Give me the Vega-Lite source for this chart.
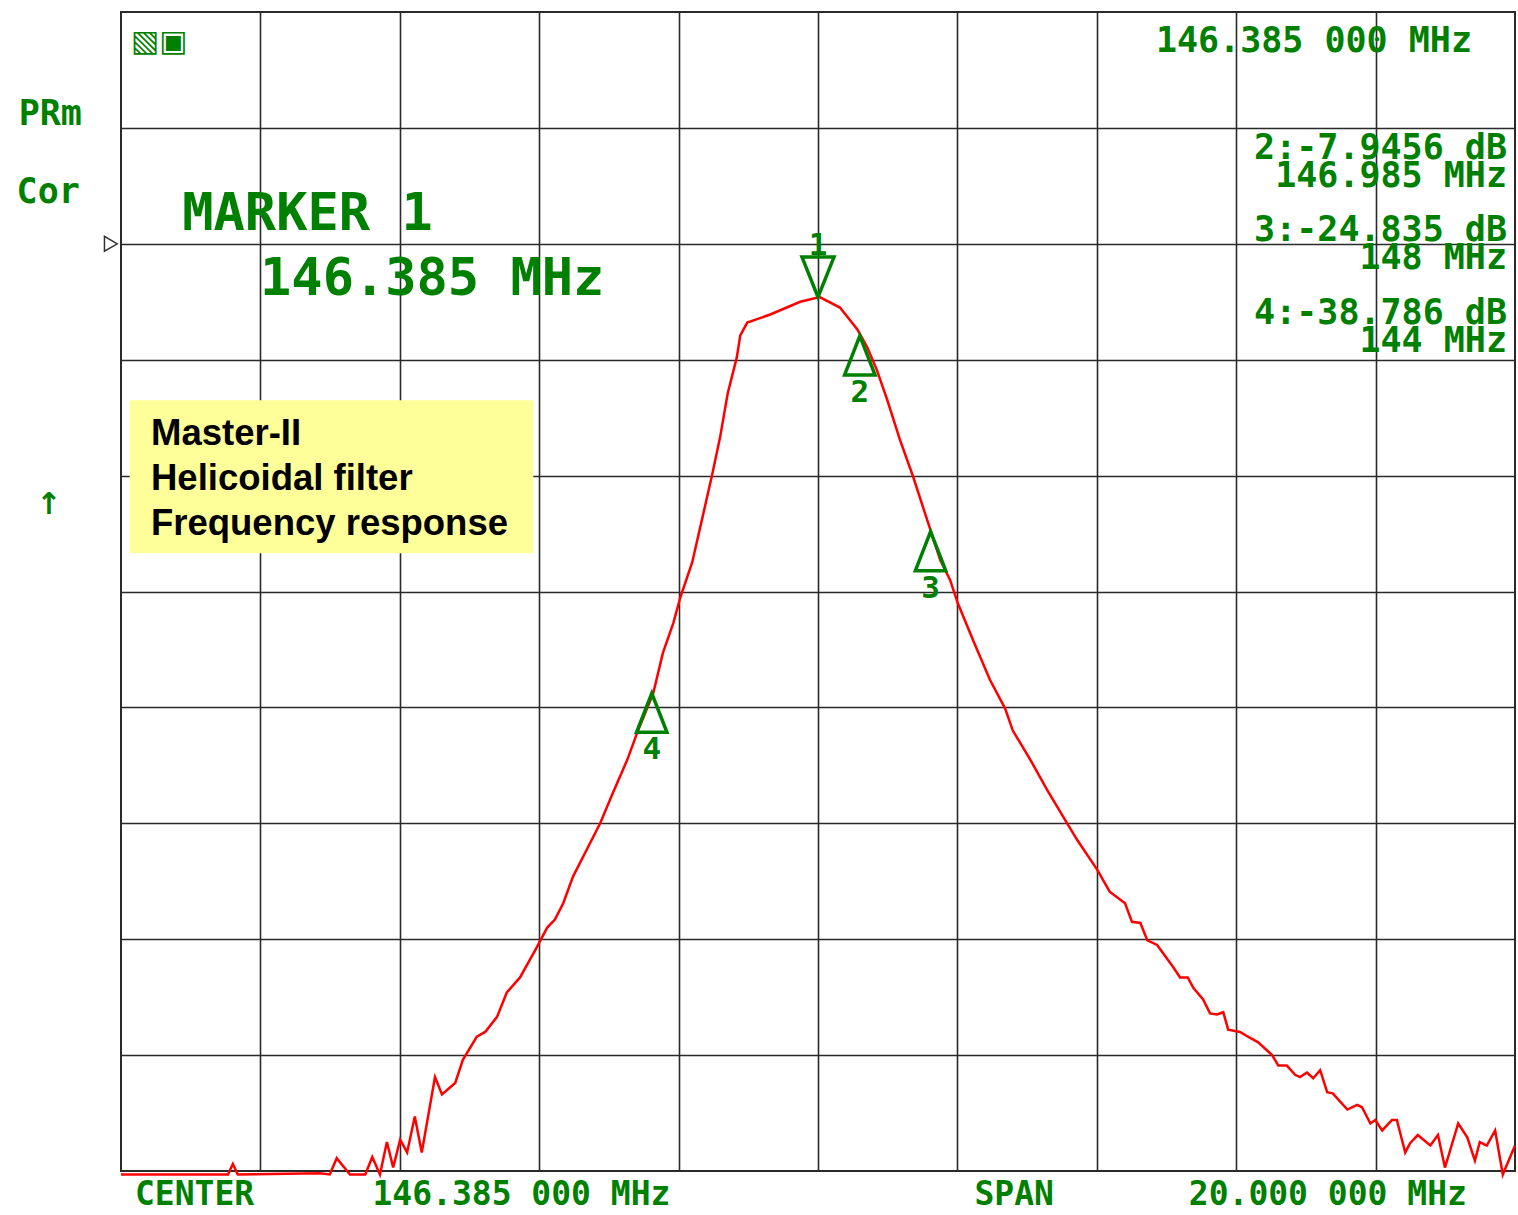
{
  "$schema": "https://vega.github.io/schema/vega-lite/v6.json",
  "width": 1394,
  "height": 1159,
  "autosize": {"type": "none"},
  "padding": {"left": 121, "top": 12, "right": 3, "bottom": 44},
  "background": "white",
  "config": {
    "view": {"stroke": "#2a2a2a", "strokeWidth": 2},
    "axis": {"gridColor": "#2a2a2a", "gridWidth": 1.6, "gridOpacity": 1}
  },
  "datasets": {
    "trace": [
      {"freq": 136.385, "level": -80.3}, {"freq": 137.92, "level": -80.3}, {"freq": 137.99, "level": -79.4},
      {"freq": 138.06, "level": -80.3}, {"freq": 139.24, "level": -80.2}, {"freq": 139.38, "level": -80.3},
      {"freq": 139.48, "level": -78.9}, {"freq": 139.67, "level": -80.3}, {"freq": 139.89, "level": -80.3},
      {"freq": 139.99, "level": -78.8}, {"freq": 140.10, "level": -80.3}, {"freq": 140.20, "level": -77.5},
      {"freq": 140.29, "level": -79.7}, {"freq": 140.39, "level": -77.3}, {"freq": 140.49, "level": -78.4},
      {"freq": 140.60, "level": -75.3}, {"freq": 140.70, "level": -78.4}, {"freq": 140.89, "level": -71.9},
      {"freq": 140.99, "level": -73.4}, {"freq": 141.18, "level": -72.4}, {"freq": 141.29, "level": -70.4},
      {"freq": 141.49, "level": -68.4}, {"freq": 141.61, "level": -68.0}, {"freq": 141.78, "level": -66.7},
      {"freq": 141.92, "level": -64.6}, {"freq": 142.11, "level": -63.3}, {"freq": 142.35, "level": -60.7},
      {"freq": 142.50, "level": -59.0}, {"freq": 142.61, "level": -58.3}, {"freq": 142.73, "level": -56.9},
      {"freq": 142.87, "level": -54.6}, {"freq": 143.09, "level": -52.0}, {"freq": 143.26, "level": -50.0},
      {"freq": 143.44, "level": -47.4}, {"freq": 143.65, "level": -44.5}, {"freq": 143.79, "level": -42.2},
      {"freq": 144.02, "level": -38.8}, {"freq": 144.16, "level": -35.3}, {"freq": 144.31, "level": -32.7},
      {"freq": 144.41, "level": -30.5}, {"freq": 144.58, "level": -27.5}, {"freq": 144.72, "level": -23.8},
      {"freq": 144.86, "level": -20.1}, {"freq": 144.98, "level": -16.7}, {"freq": 145.09, "level": -12.9},
      {"freq": 145.22, "level": -9.8}, {"freq": 145.27, "level": -7.9}, {"freq": 145.37, "level": -6.8},
      {"freq": 145.70, "level": -6.1}, {"freq": 146.13, "level": -5.0}, {"freq": 146.41, "level": -4.6},
      {"freq": 146.70, "level": -5.5}, {"freq": 146.95, "level": -7.4}, {"freq": 147.09, "level": -8.9},
      {"freq": 147.23, "level": -10.9}, {"freq": 147.38, "level": -13.5}, {"freq": 147.56, "level": -16.9},
      {"freq": 147.75, "level": -20.1}, {"freq": 147.95, "level": -23.8}, {"freq": 148.14, "level": -27.3},
      {"freq": 148.28, "level": -29.0}, {"freq": 148.39, "level": -31.0}, {"freq": 148.61, "level": -34.2},
      {"freq": 148.85, "level": -37.6}, {"freq": 149.07, "level": -40.1}, {"freq": 149.18, "level": -42.0},
      {"freq": 149.43, "level": -44.5}, {"freq": 149.67, "level": -47.1}, {"freq": 149.96, "level": -50.0},
      {"freq": 150.10, "level": -51.4}, {"freq": 150.39, "level": -54.0}, {"freq": 150.57, "level": -55.9},
      {"freq": 150.79, "level": -56.9}, {"freq": 150.89, "level": -58.5}, {"freq": 151.01, "level": -58.6},
      {"freq": 151.11, "level": -60.1}, {"freq": 151.25, "level": -60.5}, {"freq": 151.48, "level": -62.4},
      {"freq": 151.58, "level": -63.3}, {"freq": 151.69, "level": -63.3}, {"freq": 151.77, "level": -64.2},
      {"freq": 151.91, "level": -65.2}, {"freq": 152.01, "level": -66.4}, {"freq": 152.11, "level": -66.5},
      {"freq": 152.20, "level": -66.3}, {"freq": 152.27, "level": -67.8}, {"freq": 152.44, "level": -68.0},
      {"freq": 152.58, "level": -68.5}, {"freq": 152.70, "level": -68.9}, {"freq": 152.90, "level": -70.0},
      {"freq": 152.99, "level": -70.9}, {"freq": 153.11, "level": -70.9}, {"freq": 153.23, "level": -71.7},
      {"freq": 153.30, "level": -71.9}, {"freq": 153.40, "level": -71.5}, {"freq": 153.49, "level": -72.0},
      {"freq": 153.59, "level": -71.3}, {"freq": 153.69, "level": -73.2}, {"freq": 153.77, "level": -73.3},
      {"freq": 153.98, "level": -74.7}, {"freq": 154.12, "level": -74.3}, {"freq": 154.19, "level": -74.5},
      {"freq": 154.31, "level": -75.9}, {"freq": 154.38, "level": -75.6}, {"freq": 154.48, "level": -76.5},
      {"freq": 154.62, "level": -75.6}, {"freq": 154.69, "level": -75.6}, {"freq": 154.81, "level": -78.4},
      {"freq": 154.88, "level": -77.6}, {"freq": 154.99, "level": -76.9}, {"freq": 155.17, "level": -77.8},
      {"freq": 155.28, "level": -76.9}, {"freq": 155.38, "level": -79.7}, {"freq": 155.57, "level": -75.9},
      {"freq": 155.70, "level": -77.1}, {"freq": 155.81, "level": -79.1}, {"freq": 155.88, "level": -77.5},
      {"freq": 155.98, "level": -77.8}, {"freq": 156.10, "level": -76.5}, {"freq": 156.21, "level": -80.3},
      {"freq": 156.385, "level": -77.8}
    ],
    "markers": [
      {"marker": "1", "freq": 146.385, "level": -4.6, "dir": "down"},
      {"marker": "2", "freq": 146.985, "level": -7.9456, "dir": "up"},
      {"marker": "3", "freq": 148.0, "level": -24.835, "dir": "up"},
      {"marker": "4", "freq": 144.0, "level": -38.786, "dir": "up"}
    ],
    "note": [
      {"text": "Master-II\nHelicoidal filter\nFrequency response", "freq": 136.51, "freq2": 142.30, "level": -13.5, "level2": -26.7, "textFreq": 136.815, "textLevel": -17.36}
    ],
    "texts": [
      {"kind": "readout", "text": "146.385 000 MHz", "freq": 153.50, "level": 17.5},
      {"kind": "pair", "text": "2:-7.9456 dB\n146.985 MHz", "freq": 156.27, "level": 8.27},
      {"kind": "pair", "text": "3:-24.835 dB\n148 MHz", "freq": 156.27, "level": 1.19},
      {"kind": "pair", "text": "4:-38.786 dB\n144 MHz", "freq": 156.27, "level": -5.97},
      {"kind": "readout", "text": "PRm", "freq": 135.37, "level": 11.2},
      {"kind": "readout", "text": "Cor", "freq": 135.34, "level": 4.5},
      {"kind": "footer", "text": "CENTER", "freq": 137.44, "level": -82.1},
      {"kind": "footer", "text": "146.385 000 MHz", "freq": 142.13, "level": -82.1},
      {"kind": "footer", "text": "SPAN", "freq": 149.20, "level": -82.1},
      {"kind": "footer", "text": "20.000 000 MHz", "freq": 153.70, "level": -82.1},
      {"kind": "big", "text": "MARKER 1", "freq": 139.06, "level": 2.6},
      {"kind": "big", "text": "146.385 MHz", "freq": 140.85, "level": -3.0},
      {"kind": "symbol", "text": "↑", "freq": 135.35, "level": -22.5},
      {"kind": "symbol", "text": "▧▣", "freq": 136.93, "level": 17.4}
    ],
    "ref": [
      {"freq": 136.24, "level": 0}
    ]
  },
  "encoding": {
    "x": {
      "field": "freq", "type": "quantitative",
      "scale": {"domain": [136.385, 156.385], "nice": false, "zero": false},
      "axis": {"values": [138.385, 140.385, 142.385, 144.385, 146.385, 148.385, 150.385, 152.385, 154.385], "grid": true, "labels": false, "ticks": false, "domain": false, "title": null}
    },
    "y": {
      "field": "level", "type": "quantitative",
      "scale": {"domain": [-80, 20], "nice": false, "zero": false},
      "axis": {"values": [-70, -60, -50, -40, -30, -20, -10, 0, 10], "grid": true, "labels": false, "ticks": false, "domain": false, "title": null}
    }
  },
  "layer": [
    {
      "data": {"name": "note"},
      "mark": {"type": "rect", "fill": "#ffff99", "stroke": null},
      "encoding": {"x2": {"field": "freq2"}, "y2": {"field": "level2"}}
    },
    {
      "data": {"name": "note"},
      "mark": {"type": "text", "align": "left", "baseline": "alphabetic", "lineBreak": "\n", "lineHeight": 45, "font": "Liberation Sans", "fontWeight": "bold", "fontSize": 36.5, "color": "#000000"},
      "encoding": {
        "x": {"field": "textFreq", "type": "quantitative"},
        "y": {"field": "textLevel", "type": "quantitative"},
        "text": {"field": "text"}
      }
    },
    {
      "data": {"name": "trace"},
      "mark": {"type": "line", "color": "#ff0000", "strokeWidth": 2.5, "interpolate": "linear"}
    },
    {
      "data": {"name": "markers"},
      "transform": [{"filter": "datum.dir === 'up'"}],
      "mark": {"type": "point", "shape": "M0,0L-0.39,1L0.39,1Z", "size": 6084, "filled": false, "stroke": "#008000", "color": "#008000", "strokeWidth": 3.5, "opacity": 1}
    },
    {
      "data": {"name": "markers"},
      "transform": [{"filter": "datum.dir === 'down'"}],
      "mark": {"type": "point", "shape": "M0,0L-0.4,-1L0.4,-1Z", "size": 6400, "filled": false, "stroke": "#008000", "color": "#008000", "strokeWidth": 3.5, "opacity": 1}
    },
    {
      "data": {"name": "markers"},
      "transform": [{"filter": "datum.dir === 'up'"}],
      "mark": {"type": "text", "dy": 57, "align": "center", "baseline": "middle", "font": "DejaVu Sans Mono", "fontWeight": "bold", "fontSize": 31, "color": "#008000"},
      "encoding": {"text": {"field": "marker"}}
    },
    {
      "data": {"name": "markers"},
      "transform": [{"filter": "datum.dir === 'down'"}],
      "mark": {"type": "text", "dy": -51, "align": "center", "baseline": "middle", "font": "DejaVu Sans Mono", "fontWeight": "bold", "fontSize": 31, "color": "#008000"},
      "encoding": {"text": {"field": "marker"}}
    },
    {
      "data": {"name": "texts"},
      "transform": [{"filter": "datum.kind === 'readout'"}],
      "mark": {"type": "text", "align": "center", "baseline": "middle", "font": "DejaVu Sans Mono", "fontWeight": "bold", "fontSize": 35, "color": "#008000"},
      "encoding": {"text": {"field": "text"}}
    },
    {
      "data": {"name": "texts"},
      "transform": [{"filter": "datum.kind === 'pair'"}],
      "mark": {"type": "text", "align": "right", "baseline": "middle", "lineBreak": "\n", "lineHeight": 28, "font": "DejaVu Sans Mono", "fontWeight": "bold", "fontSize": 35, "color": "#008000"},
      "encoding": {"text": {"field": "text"}}
    },
    {
      "data": {"name": "texts"},
      "transform": [{"filter": "datum.kind === 'footer'"}],
      "mark": {"type": "text", "align": "center", "baseline": "middle", "font": "DejaVu Sans Mono", "fontWeight": "bold", "fontSize": 33, "color": "#008000"},
      "encoding": {"text": {"field": "text"}}
    },
    {
      "data": {"name": "texts"},
      "transform": [{"filter": "datum.kind === 'big'"}],
      "mark": {"type": "text", "align": "center", "baseline": "middle", "font": "DejaVu Sans Mono", "fontWeight": "bold", "fontSize": 52, "color": "#008000"},
      "encoding": {"text": {"field": "text"}}
    },
    {
      "data": {"name": "texts"},
      "transform": [{"filter": "datum.kind === 'symbol'"}],
      "mark": {"type": "text", "align": "center", "baseline": "middle", "font": "DejaVu Sans", "fontWeight": "bold", "fontSize": 30, "color": "#008000"},
      "encoding": {"text": {"field": "text"}}
    },
    {
      "data": {"name": "ref"},
      "mark": {"type": "point", "shape": "triangle-right", "size": 220, "filled": false, "stroke": "#333333", "strokeWidth": 1.5, "opacity": 1}
    }
  ]
}
